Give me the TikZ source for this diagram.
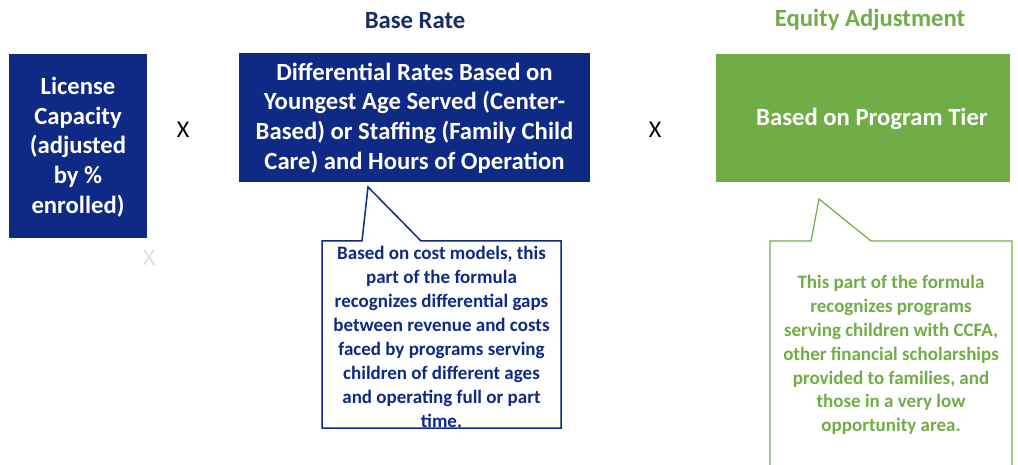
\documentclass[tikz,border=0pt]{standalone}
\usepackage{fontspec}
\setmainfont{Carlito}
\definecolor{dblue}{RGB}{14,42,132}
\definecolor{navy}{RGB}{24,44,104}
\definecolor{eqgreen}{RGB}{112,173,71}
\begin{document}
\begin{tikzpicture}[x=1pt,y=-1pt,
  boxtext/.style={text=white,font=\bfseries\fontsize{24.7}{29.7}\selectfont,align=center,inner sep=0pt},
  calltext/.style={font=\bfseries\fontsize{19}{23.9}\selectfont,align=center,inner sep=0pt},
  title/.style={font=\bfseries\fontsize{24.7}{29}\selectfont},
  times/.style={font=\fontsize{24}{28}\selectfont}]
\useasboundingbox (0,0) rectangle (1018,465);
% boxes
\fill[dblue] (9,54) rectangle (147,238);
\node[boxtext] (lic) at (78,147) {License\\Capacity\\(adjusted\\by \%\\enrolled)};
\fill[dblue] (239,53) rectangle (590,182);
\node[boxtext] (base) at (414.5,118) {Differential Rates Based on\\Youngest Age Served (Center-\\Based) or Staffing (Family Child\\Care) and Hours of Operation};
\fill[eqgreen] (716,54) rectangle (1010,182);
\node[boxtext] (eq) at (872,119) {Based on Program Tier};
% titles
\node[title,text=navy] (t1) at (415,21) {Base Rate};
\node[title,text=eqgreen] (t2) at (870,20) {Equity Adjustment};
% multiplication signs
\node[times] (x1) at (183,130) {X};
\node[times] (x2) at (655,130) {X};
\node[times,text=black!12] (x3) at (149,258) {X};
% callout 1
\draw[dblue,line width=1.5pt,fill=white,line join=miter]
  (362,241) -- (368,187) -- (421,241) -- (561,241) -- (561,428) -- (322,428) -- (322,241) -- cycle;
\node[calltext,text=dblue] (c1) at (441.5,337) {Based on cost models, this\\part of the formula\\recognizes differential gaps\\between revenue and costs\\faced by programs serving\\children of different ages\\and operating full or part\\time.};
% callout 2
\draw[eqgreen,line width=1.2pt,line join=miter]
  (770,466) -- (770,241) -- (811,241) -- (819,199) -- (871,241) -- (1012,241) -- (1012,466);
\node[calltext,text=eqgreen] (c2) at (891,355) {This part of the formula\\recognizes programs\\serving children with CCFA,\\other financial scholarships\\provided to families, and\\those in a very low\\opportunity area.};
\end{tikzpicture}
\end{document}
